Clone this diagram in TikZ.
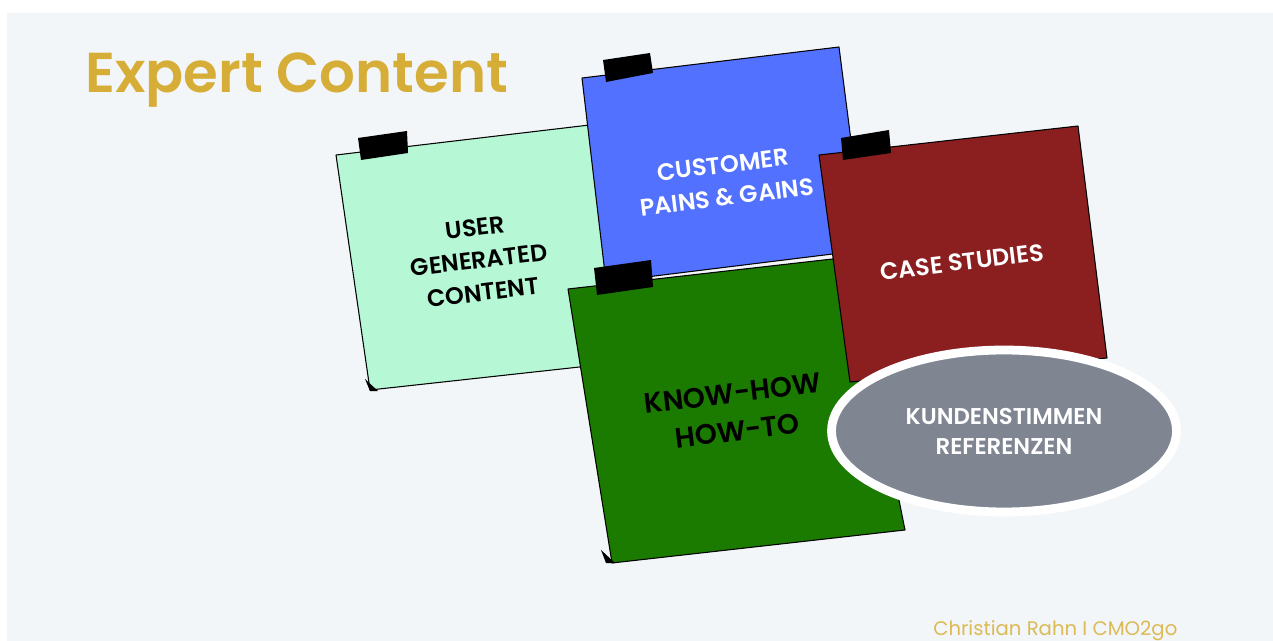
\documentclass[tikz,border=0pt]{standalone}
\usepackage{fontspec}
\setmainfont{Poppins}[BoldFont={* SemiBold}]
\newfontfamily\notefont{Poppins}[UprightFont={* Medium},BoldFont={* SemiBold}]
\usetikzlibrary{shapes.geometric}

\definecolor{panel}{HTML}{F3F6F9}
\definecolor{gold}{HTML}{D6AE37}
\definecolor{mint}{HTML}{B6F8D6}
\definecolor{royal}{HTML}{5271FF}
\definecolor{leaf}{HTML}{1B7A00}
\definecolor{wine}{HTML}{8B1E1F}
\definecolor{slate}{HTML}{7F8692}

\begin{document}
\begin{tikzpicture}[x=0.02cm,y=-0.02cm,
    note/.style={draw=black,line width=0.6pt,line join=round},
    tape/.style={fill=black},
    fold/.style={fill=black},
    notetext/.style={align=center,rotate=7,inner sep=0pt,
      font=\notefont\bfseries\fontsize{13.6}{18.6}\selectfont}]
        % page with the light panel
        \useasboundingbox (0,0) rectangle (1273,641);
        \fill[white] (0,0) rectangle (1273,641);
        \fill[panel] (7,13) rectangle (1273,641);

        % heading
        \node[anchor=base west,inner sep=0pt,text=gold,font=\bfseries\fontsize{32}{38}\selectfont] (title) at (85,93) {Expert Content};

        % user generated content
        \filldraw[note,fill=mint] (336,155) -- (598,124) -- (625,362) -- (370,390) -- cycle;
        \fill[fold] (365,379) -- (378,391) -- (370,391) -- cycle;
        \fill[tape] (358,138) -- (407,131) -- (408,153) -- (361,160) -- cycle;
        \node[notetext] (ugc) at (479,260) {USER\\GENERATED\\CONTENT};

        % customer pains & gains
        \filldraw[note,fill=royal] (582,78) -- (839,47) -- (865,250) -- (606,282) -- cycle;
        \fill[tape] (603,60) -- (650,53) -- (653,73) -- (606,82) -- cycle;
        \node[notetext,text=white] (pains) at (725,181) {CUSTOMER\\PAINS \& GAINS};

        % know-how
        \filldraw[note,fill=leaf] (568,289) -- (850,257) -- (905,530) -- (612,563) -- cycle;
        \fill[fold] (601,550) -- (615,563) -- (606,563) -- cycle;
        \fill[tape] (594,268) -- (651,260) -- (653,287) -- (597,295) -- cycle;
        \node[notetext,font=\notefont\bfseries\fontsize{16}{21.5}\selectfont] (knowhow) at (735,412) {KNOW-HOW\\HOW-TO};

        % case studies
        \filldraw[note,fill=wine] (819,155) -- (1078,126) -- (1107,358) -- (850,382) -- cycle;
        \fill[tape] (841,138) -- (889,130) -- (891,153) -- (843,160) -- cycle;
        \node[notetext,text=white] (cases) at (962,262) {CASE STUDIES};

        % testimonials on top
        \node[ellipse,draw=white,line width=5pt,fill=slate,text=white,align=center,
              minimum width=6.9cm,minimum height=3.24cm,
              font=\notefont\bfseries\fontsize{13}{17}\selectfont] (kunden) at (1004,431) {KUNDENSTIMMEN\\REFERENZEN};

        % credit
        \node[anchor=base west,inner sep=0pt,text=gold!85,font=\fontsize{11.2}{13}\selectfont] (credit) at (933,635) {Christian Rahn I CMO2go};
\end{tikzpicture}
\end{document}
